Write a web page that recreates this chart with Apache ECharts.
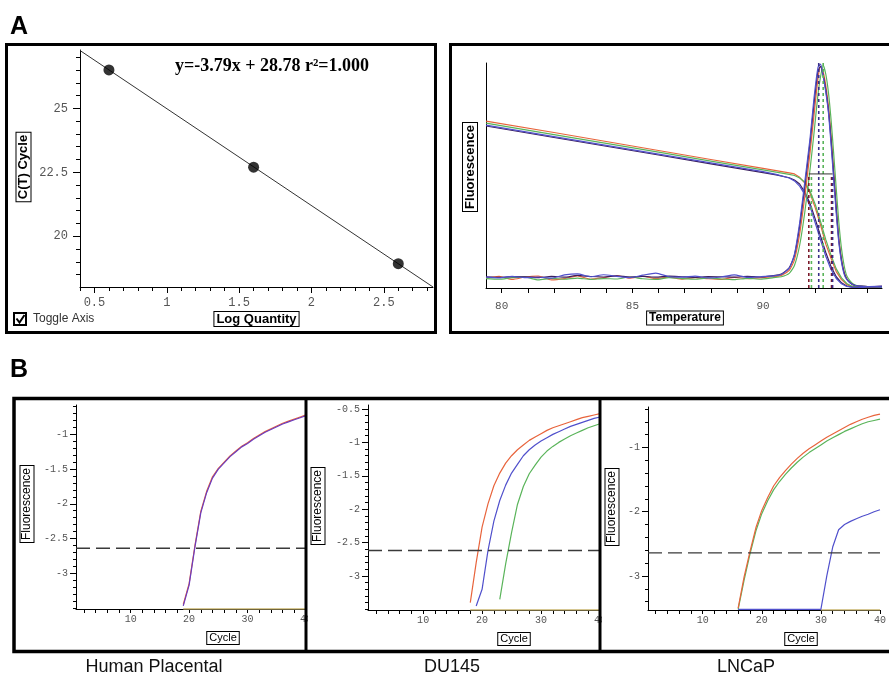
<!DOCTYPE html>
<html><head><meta charset="utf-8">
<script src="https://cdn.jsdelivr.net/npm/echarts@6/dist/echarts.min.js"></script>
<style>html,body{margin:0;padding:0;background:#fff}#c{width:889px;height:689px}</style>
</head><body><div id="c"></div>
<script>
// ---------- Panel A (left): standard curve ----------
const stdX = [0.6, 1.6, 2.6];
const stdY = [26.5, 22.7, 18.93];
const fitX = [0.4, 2.84];
const fitY = [27.26, 18.02];
const stdXLabels = [0.5, 1, 1.5, 2, 2.5];
const stdXMinor = [0.4,0.5,0.6,0.7,0.8,0.9,1,1.1,1.2,1.3,1.4,1.5,1.6,1.7,1.8,1.9,2,2.1,2.2,2.3,2.4,2.5,2.6,2.7,2.8];
const stdYLabels = [20, 22.5, 25];
const stdYMinor = [18.5,19,19.5,20,20.5,21,21.5,22,22.5,23,23.5,24,24.5,25,25.5,26,26.5,27];

// ---------- Panel A (right): melt curves ----------
const meltTemps = [79.4, 82, 84, 86, 88, 90, 90.5, 91, 91.2, 91.4, 91.6, 91.8, 92, 92.2, 92.4, 92.6, 92.8, 93, 93.2, 93.4, 93.7, 94, 94.55];
const meltOrange = [74.2, 69.1, 65.1, 61.1, 57.1, 53.2, 52.2, 51.2, 50.7, 49.2, 46.6, 42.0, 35.5, 28.0, 19.5, 13.2, 7.3, 3.7, 1.6, 0.6, 0.3, 0.3, 0.3];
const meltGreen  = [73.3, 68.2, 64.3, 60.4, 56.4, 52.5, 51.5, 50.5, 50.0, 48.9, 47.0, 43.0, 37.0, 29.5, 21.5, 14.6, 8.5, 4.5, 2.0, 0.8, 0.4, 0.3, 0.3];
const meltBlue   = [72.4, 67.3, 63.4, 59.5, 55.6, 51.7, 50.5, 48.9, 47.6, 45.3, 41.5, 36.2, 28.7, 21.3, 14.1, 8.2, 4.2, 1.9, 0.7, 0.4, 0.3, 0.3, 0.3];
const meltDark   = [72.0, 66.9, 63.0, 59.1, 55.2, 51.3, 50.3, 49.0, 48.0, 46.2, 42.5, 37.5, 30.5, 23.0, 15.8, 9.5, 5.0, 2.3, 0.9, 0.4, 0.3, 0.3, 0.3];
const derivTemps = [79.4, 79.9, 80.4, 80.9, 81.4, 81.9, 82.4, 82.9, 83.4, 83.9, 84.4, 84.9, 85.4, 85.9, 86.4, 86.9, 87.4, 87.9, 88.4, 88.9, 89.4, 89.9, 90.4,
  90.7, 91.0, 91.2, 91.4, 91.6, 91.8, 91.95, 92.1, 92.2, 92.3, 92.4, 92.5, 92.6, 92.7, 92.8, 92.9, 93.0, 93.1, 93.2, 93.35, 93.5, 93.7, 94.0, 94.55];
const derivOrange = [4.5, 5.2, 3.8, 4.9, 5.3, 3.6, 4.2, 5.4, 3.9, 4.6, 5.5, 4.4, 5.3, 4.2, 4.8, 3.9, 4.6, 4.1, 3.8, 4.7, 4.2, 4.5, 5.0,
  5.6, 7.8, 12.5, 24, 41, 60.5, 77, 93, 98.5, 96, 90, 81, 68, 52.5, 36, 22, 13, 7.2, 4.2, 2.2, 1.2, 0.8, 0.6, 0.7];
const derivGreen = [4.2, 3.9, 4.6, 4.8, 3.6, 4.3, 3.9, 4.4, 3.8, 4.2, 4.0, 4.9, 4.1, 3.8, 4.6, 4.2, 3.9, 4.5, 4.0, 3.7, 4.3, 3.9, 4.6,
  5.0, 6.5, 10, 19, 34, 53, 69, 86, 94, 99, 95, 87, 75, 60, 44, 29, 17.5, 10, 5.5, 2.8, 1.4, 0.8, 0.6, 0.6];
const derivBlue = [4.8, 4.5, 5.2, 4.6, 4.9, 4.4, 5.8, 6.3, 5.0, 5.9, 5.2, 4.6, 5.7, 6.6, 5.0, 4.8, 5.3, 4.5, 4.9, 5.8, 4.7, 5.0, 5.4,
  6.0, 8.8, 15.0, 29.0, 47.5, 66.8, 84.5, 98, 99.5, 94, 87, 78, 64, 48.5, 33, 20, 11.5, 6.2, 3.8, 2.1, 1.2, 0.8, 0.6, 0.8];
const derivDark = [5.0, 4.7, 5.1, 5.0, 4.6, 5.2, 4.8, 5.6, 5.1, 4.9, 5.4, 4.9, 5.2, 4.8, 5.3, 5.0, 4.7, 5.1, 5.0, 4.8, 5.2, 4.9, 5.5,
  6.2, 9, 14.5, 27.5, 45.5, 65, 82, 96.5, 98.5, 94.5, 88, 79, 66, 50.5, 35, 21, 12.3, 6.8, 4.0, 2.1, 1.2, 0.8, 0.6, 0.7];
const tmTemps = [91.75, 91.85, 92.13, 92.3, 92.62, 92.66];
const tmHeights = [50.7, 50.7, 100, 100, 50.7, 50.7];
const tmColors = ['#7a1a2a', '#5ab45a', '#3a2f8a', '#5ab45a', '#7a1a2a', '#3a2f8a'];
const halfMaxLevel = 50.7;
const tempLabels = [80, 85, 90];
const tempTicks = [80,81,82,83,84,85,86,87,88,89,90,91,92,93,94];

// ---------- Panel B: amplification plots ----------
const cycleLabels = [10, 20, 30, 40];
const cycleTicks = [2,4,6,8,10,12,14,16,18,20,22,24,26,28,30,32,34,36,38,40];

const hpCycles = [19,20,21,22,23,24,25,26,27,28,29,30,31,32,33,34,35,36,37,38,39,40];
const hpRed  = [-3.45, -3.15, -2.6, -2.11, -1.82, -1.61, -1.49, -1.4, -1.31, -1.24, -1.17, -1.12, -1.06, -1.01, -0.96, -0.92, -0.88, -0.84, -0.81, -0.78, -0.75, -0.72];
const hpBlue = [-3.47, -3.17, -2.62, -2.13, -1.84, -1.63, -1.5, -1.41, -1.32, -1.25, -1.18, -1.13, -1.07, -1.02, -0.97, -0.93, -0.89, -0.85, -0.82, -0.79, -0.76, -0.73];
const hpThreshold = -2.64;
const hpYLabels = [-3, -2.5, -2, -1.5, -1];
const hpYMinor = [-3.5,-3.4,-3.3,-3.2,-3.1,-3,-2.9,-2.8,-2.7,-2.6,-2.5,-2.4,-2.3,-2.2,-2.1,-2,-1.9,-1.8,-1.7,-1.6,-1.5,-1.4,-1.3,-1.2,-1.1,-1,-0.9,-0.8,-0.7,-0.6];

const duOrangeCycles = [18,19,20,21,22,23,24,25,26,27,28,29,30,31,32,33,34,35,36,37,38,39,40];
const duOrange = [-3.4, -2.8, -2.27, -1.92, -1.65, -1.46, -1.31, -1.2, -1.11, -1.04, -0.97, -0.92, -0.87, -0.82, -0.78, -0.75, -0.72, -0.69, -0.66, -0.63, -0.61, -0.59, -0.57];
const duBlueCycles = [19,20,21,22,23,24,25,26,27,28,29,30,31,32,33,34,35,36,37,38,39,40];
const duBlue = [-3.45, -3.2, -2.62, -2.18, -1.87, -1.64, -1.46, -1.33, -1.2, -1.11, -1.04, -0.98, -0.93, -0.88, -0.84, -0.8, -0.76, -0.73, -0.7, -0.67, -0.64, -0.62];
const duGreenCycles = [23,24,25,26,27,28,29,30,31,32,33,34,35,36,37,38,39,40];
const duGreen = [-3.35, -2.82, -2.35, -1.93, -1.66, -1.47, -1.34, -1.22, -1.13, -1.06, -1.0, -0.95, -0.9, -0.86, -0.82, -0.78, -0.75, -0.72];
const duThreshold = -2.62;
const duYLabels = [-3, -2.5, -2, -1.5, -1, -0.5];
const duYMinor = [-3.5,-3.4,-3.3,-3.2,-3.1,-3,-2.9,-2.8,-2.7,-2.6,-2.5,-2.4,-2.3,-2.2,-2.1,-2,-1.9,-1.8,-1.7,-1.6,-1.5,-1.4,-1.3,-1.2,-1.1,-1,-0.9,-0.8,-0.7,-0.6,-0.5];

const lnCycles = [16,17,18,19,20,21,22,23,24,25,26,27,28,29,30,31,32,33,34,35,36,37,38,39,40];
const lnOrange = [-3.5, -3.02, -2.62, -2.25, -1.98, -1.78, -1.6, -1.47, -1.36, -1.26, -1.17, -1.09, -1.02, -0.96, -0.9, -0.84, -0.79, -0.74, -0.69, -0.64, -0.6, -0.56, -0.53, -0.5, -0.48];
const lnGreen  = [-3.52, -3.07, -2.66, -2.3, -2.03, -1.83, -1.66, -1.53, -1.42, -1.32, -1.23, -1.15, -1.08, -1.02, -0.96, -0.9, -0.85, -0.8, -0.75, -0.71, -0.67, -0.63, -0.6, -0.58, -0.56];
const lnBlue   = [-3.52, -3.52, -3.52, -3.52, -3.52, -3.52, -3.52, -3.52, -3.52, -3.52, -3.52, -3.52, -3.52, -3.52, -3.52, -3.0, -2.55, -2.28, -2.2, -2.15, -2.11, -2.07, -2.04, -2.0, -1.97];
const lnThreshold = -2.64;
const lnYLabels = [-3, -2, -1];
const lnYMinor = [-3.4,-3.2,-3,-2.8,-2.6,-2.4,-2.2,-2,-1.8,-1.6,-1.4,-1.2,-1,-0.8,-0.6,-0.4];

const panelNames = ['Human Placental', 'DU145', 'LNCaP'];

// ---------- build ----------
const C = {orange:'#e8643c', green:'#5ab45a', blue:'#5050cc', dark:'#3b1f5e', tan:'#c8b46e'};
const grids = [], xAxes = [], yAxes = [], series = [], graphics = [];
const zip = (a, b) => a.map((v, i) => [v, b[i]]);
const mono = (size) => ({fontFamily:'Liberation Mono', fontSize:size, color:'#555'});

function axis(gi, min, max, o) {
  return Object.assign({gridIndex:gi, type:'value', min:min, max:max, splitLine:{show:false},
    axisLine:{show:true, onZero:false, lineStyle:{color:'#000', width:1}},
    axisTick:{show:false}, axisLabel:{show:false}}, o);
}
function ticks(vals, len) { return {show:true, customValues:vals, length:len, lineStyle:{color:'#000', width:1}}; }
function addLine(xi, yi, xs, ys, color, width, extra) {
  series.push(Object.assign({type:'line', xAxisIndex:xi, yAxisIndex:yi, data:zip(xs, ys), symbol:'none',
    silent:true, lineStyle:{color:color, width:width}, z:3}, extra || {}));
}

// Grid A-left
grids.push({left:80, top:50, width:353, height:237});
const axL_x = xAxes.push(axis(0, 0.4, 2.84, {position:'bottom', axisTick:ticks(stdXLabels, 6),
  axisLabel:Object.assign({show:true, customValues:stdXLabels, margin:10}, mono(12))})) - 1;
xAxes.push(axis(0, 0.4, 2.84, {position:'bottom', axisLine:{show:false}, axisTick:ticks(stdXMinor, 4)}));
const axL_y = yAxes.push(axis(0, 18.02, 27.28, {position:'left', axisTick:ticks(stdYLabels, 7),
  axisLabel:Object.assign({show:true, customValues:stdYLabels, margin:12}, mono(12))})) - 1;
yAxes.push(axis(0, 18.02, 27.28, {position:'left', axisLine:{show:false}, axisTick:ticks(stdYMinor, 4)}));
addLine(axL_x, axL_y, fitX, fitY, '#333', 1);
series.push({type:'scatter', xAxisIndex:axL_x, yAxisIndex:axL_y, data:zip(stdX, stdY), symbol:'circle',
  symbolSize:11, itemStyle:{color:'#000'}, silent:true, z:4});

// Grid A-right
grids.push({left:486, top:63, width:396, height:225});
const axR_x = xAxes.push(axis(1, 79.4, 94.55, {position:'bottom', axisTick:ticks(tempTicks, 5),
  axisLabel:Object.assign({show:true, customValues:tempLabels, margin:13}, mono(11))})) - 1;
const axR_y = yAxes.push(axis(1, 0, 100, {position:'left'})) - 1;
[[meltOrange, C.orange], [meltGreen, C.green], [meltDark, C.dark], [meltBlue, C.blue]].forEach(([d, c]) =>
  addLine(axR_x, axR_y, meltTemps, d, c, 1.2));
[[derivOrange, C.orange], [derivGreen, C.green], [derivDark, C.dark], [derivBlue, C.blue]].forEach(([d, c]) =>
  addLine(axR_x, axR_y, derivTemps, d, c, 1.2, {smooth:0.2}));
tmTemps.forEach((t, i) => addLine(axR_x, axR_y, [t, t], [0, tmHeights[i]], tmColors[i], 1.6,
  {lineStyle:{color:tmColors[i], width:1.6, type:[3, 3]}, z:5}));
addLine(axR_x, axR_y, [tmTemps[0], tmTemps[5]], [halfMaxLevel, halfMaxLevel], '#333', 1, {z:5});

// Panel B grids
const panels = [
  {grid:{left:76, top:405, width:230, height:204}, xmin:0.65, ymin:-3.515, ymax:-0.577, yl:hpYLabels, ym:hpYMinor, thr:hpThreshold,
   curves:[[hpCycles, hpRed, C.orange], [hpCycles, hpBlue, '#6a3cc0']], tanFrom:19},
  {grid:{left:368, top:405, width:232, height:205}, xmin:0.65, ymin:-3.51, ymax:-0.44, yl:duYLabels, ym:duYMinor, thr:duThreshold,
   curves:[[duGreenCycles, duGreen, C.green], [duBlueCycles, duBlue, C.blue], [duOrangeCycles, duOrange, C.orange]], tanFrom:18},
  {grid:{left:648, top:407, width:242, height:203}, xmin:0.75, ymin:-3.53, ymax:-0.37, yl:lnYLabels, ym:lnYMinor, thr:lnThreshold,
   curves:[[lnCycles, lnGreen, C.green], [lnCycles, lnOrange, C.orange], [lnCycles, lnBlue, C.blue]], tanFrom:30}
];
panels.forEach((p, k) => {
  const gi = grids.push(p.grid) - 1;
  const xi = xAxes.push(axis(gi, p.xmin, 40, {position:'bottom', axisTick:ticks(cycleTicks, 4),
    axisLabel:Object.assign({show:true, customValues:cycleLabels, margin:5}, mono(10))})) - 1;
  const yi = yAxes.push(axis(gi, p.ymin, p.ymax, {position:'left', axisTick:ticks(p.yl, 6),
    axisLabel:Object.assign({show:true, customValues:p.yl, margin:8}, mono(10))})) - 1;
  yAxes.push(axis(gi, p.ymin, p.ymax, {position:'left', axisLine:{show:false}, axisTick:ticks(p.ym, 3)}));
  addLine(xi, yi, [p.tanFrom, 40], [p.ymin, p.ymin], C.tan, 1.5, {z:3});
  p.curves.forEach(([xs, ys, c]) => addLine(xi, yi, xs, ys, c, 1.2, {z:4}));
  addLine(xi, yi, [p.xmin, 40], [p.thr, p.thr], '#3a3a3a', 1.4, {lineStyle:{color:'#3a3a3a', width:1.4, type:[14, 6]}, z:5});
});

// ---------- graphics: frames and texts ----------
function txt(text, x, y, font, o) {
  return Object.assign({type:'text', x:x, y:y, z:120, silent:true,
    style:Object.assign({text:text, x:0, y:0, font:font, fill:'#000', align:'center', verticalAlign:'middle',
      textAlign:'center', textVerticalAlign:'middle'}, (o && o.style) || {})}, o && o.rotation ? {rotation:o.rotation} : {});
}
function box(text, x, y, font, rot) {
  return txt(text, x, y, font, {rotation:rot || 0, style:{backgroundColor:'#fff', borderColor:'#000', borderWidth:1, padding:[1, 2, 0, 2]}});
}
const frame = (x, y, w, h, lw) => ({type:'rect', z:110, silent:true, shape:{x:x, y:y, width:w, height:h},
  style:{fill:null, stroke:'#000', lineWidth:lw}});
const vline = (x, y1, y2, lw) => ({type:'line', z:110, silent:true, shape:{x1:x, y1:y1, x2:x, y2:y2}, style:{stroke:'#000', lineWidth:lw}});
const cover = (x, y, w, h) => ({type:'rect', z:100, silent:true, shape:{x:x, y:y, width:w, height:h}, style:{fill:'#fff'}});

graphics.push(
  cover(308, 612, 12, 16), cover(602, 612, 12, 16),
  frame(6.5, 44.5, 429, 288, 3),
  frame(450.5, 44.5, 480, 288, 3),
  frame(14, 398.5, 900, 253, 3.5),
  vline(306, 398, 652, 3),
  vline(600, 398, 652, 3),
  txt('A', 10, 27, 'bold 25px "Liberation Sans"', {style:{align:'left', textAlign:'left'}}),
  txt('B', 10, 370, 'bold 25px "Liberation Sans"', {style:{align:'left', textAlign:'left'}}),
  txt('y=-3.79x + 28.78 r²=1.000', 272, 66, 'bold 18px "Liberation Serif"'),
  box('C(T) Cycle', 23.5, 167, 'bold 13px "Liberation Sans"', Math.PI / 2),
  box('Log Quantity', 256.5, 319, 'bold 13px "Liberation Sans"'),
  {type:'rect', z:120, silent:true, shape:{x:14, y:313, width:12, height:12}, style:{fill:'#fff', stroke:'#000', lineWidth:2}},
  {type:'polyline', z:121, silent:true, shape:{points:[[16.5, 318.5], [19.5, 322.5], [24.5, 315]]}, style:{fill:null, stroke:'#000', lineWidth:2}},
  txt('Toggle Axis', 33, 319, '12px "Liberation Sans"', {style:{align:'left', textAlign:'left', fill:'#333'}}),
  box('Fluorescence', 470, 167, 'bold 13px "Liberation Sans"', Math.PI / 2),
  box('Temperature', 685, 318, 'bold 12px "Liberation Sans"'),
  box('Fluorescence', 27, 504, '12px "Liberation Sans"', Math.PI / 2),
  box('Fluorescence', 318, 506, '12px "Liberation Sans"', Math.PI / 2),
  box('Fluorescence', 612, 507, '12px "Liberation Sans"', Math.PI / 2),
  box('Cycle', 223, 638, '11px "Liberation Sans"'),
  box('Cycle', 514, 639, '11px "Liberation Sans"'),
  box('Cycle', 801, 639, '11px "Liberation Sans"'),
  txt(panelNames[0], 154, 667, '18px "Liberation Sans"', {style:{fill:'#111'}}),
  txt(panelNames[1], 452, 667, '18px "Liberation Sans"', {style:{fill:'#111'}}),
  txt(panelNames[2], 746, 667, '18px "Liberation Sans"', {style:{fill:'#111'}})
);

const chart = echarts.init(document.getElementById('c'), null, {renderer:'canvas'});
chart.setOption({animation:false, backgroundColor:'#fff', grid:grids, xAxis:xAxes, yAxis:yAxes, series:series,
  graphic:{elements:graphics}});
</script></body></html>
